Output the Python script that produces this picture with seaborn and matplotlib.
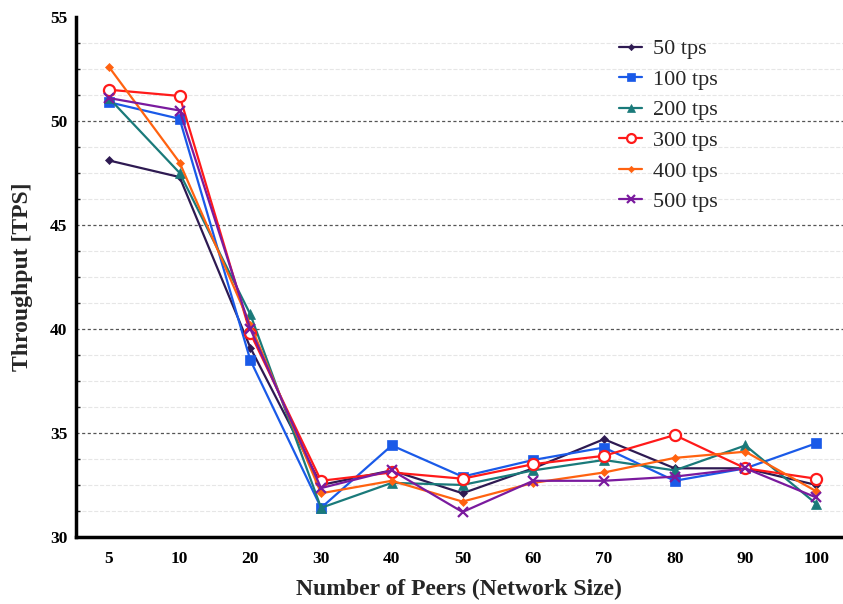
import matplotlib
matplotlib.use('Agg')
import matplotlib.pyplot as plt
from matplotlib.ticker import MultipleLocator
import seaborn as sns
import pandas as pd

sns.set_theme(style="white")
plt.rcParams['font.family'] = ['Liberation Serif', 'DejaVu Serif']

peers = ["5", "10", "20", "30", "40", "50", "60", "70", "80", "90", "100"]
tps_50 = [48.1, 47.3, 39.1, 32.5, 33.2, 32.1, 33.3, 34.7, 33.3, 33.3, 32.5]
tps_100 = [50.9, 50.1, 38.5, 31.4, 34.4, 32.9, 33.7, 34.3, 32.7, 33.3, 34.5]
tps_200 = [51.1, 47.5, 40.7, 31.4, 32.6, 32.5, 33.2, 33.7, 33.2, 34.4, 31.6]
tps_300 = [51.5, 51.2, 39.8, 32.7, 33.1, 32.8, 33.5, 33.9, 34.9, 33.3, 32.8]
tps_400 = [52.6, 48.0, 40.2, 32.1, 32.7, 31.7, 32.6, 33.1, 33.8, 34.1, 32.2]
tps_500 = [51.1, 50.5, 40.0, 32.35, 33.2, 31.2, 32.7, 32.7, 32.9, 33.3, 31.9]

series = {
    "50 tps": tps_50,
    "100 tps": tps_100,
    "200 tps": tps_200,
    "300 tps": tps_300,
    "400 tps": tps_400,
    "500 tps": tps_500,
}

# long table for seaborn
rows = []
for name, vals in series.items():
    for p, v in zip(peers, vals):
        rows.append((name, p, v))
df = pd.DataFrame(rows, columns=["rate", "peers", "tps"])

colors = {
    "50 tps": "#2e1a52",
    "100 tps": "#1a5ae8",
    "200 tps": "#1a7a7a",
    "300 tps": "#ff1a1a",
    "400 tps": "#ff6210",
    "500 tps": "#7a1a9e",
}
markers = {"50 tps": "D", "100 tps": "s", "200 tps": "^",
           "300 tps": "o", "400 tps": "D", "500 tps": "x"}
sizes = {"50 tps": 4, "100 tps": 6.5, "200 tps": 6.5,
         "300 tps": 8, "400 tps": 4, "500 tps": 6.5}

fig = plt.figure(figsize=(8.43, 6.04), dpi=100)
ax = fig.add_axes([0.090, 0.111, 0.910, 0.861])

for name in series:
    sub = df[df["rate"] == name]
    sns.lineplot(data=sub, x="peers", y="tps", ax=ax, color=colors[name],
                 marker=markers[name], markersize=sizes[name], linewidth=1.6,
                 markerfacecolor="white" if name == "300 tps" else colors[name],
                 markeredgecolor=colors[name],
                 markeredgewidth=1.6 if markers[name] in ("o", "x") else 0.5,
                 label=name, sort=False)

ax.set_xlim(-0.467, 10.38)
ax.set_ylim(30, 55)
ax.yaxis.set_major_locator(MultipleLocator(5))
ax.yaxis.set_minor_locator(MultipleLocator(1.25))

# grid: light minor, dashed dark majors at 35..50
ax.grid(which="minor", axis="y", color="#e6e6e6", linestyle="--", linewidth=0.8)
for g in [35, 40, 45, 50]:
    ax.axhline(g, color="#555555", linestyle=(0, (2.5, 2)), linewidth=0.9, zorder=0.5)

for side in ["top", "right"]:
    ax.spines[side].set_visible(False)
for side in ["left", "bottom"]:
    ax.spines[side].set_linewidth(2.5)
    ax.spines[side].set_color("black")

ax.tick_params(axis="x", which="major", direction="in", length=5, width=2,
               labelsize=12.5, pad=10, colors="black")
ax.tick_params(axis="y", which="major", direction="out", length=4, width=2,
               labelsize=12.5, pad=2, colors="black")
ax.tick_params(axis="y", which="minor", direction="in", length=3, width=1, left=True)
for lbl in ax.get_xticklabels() + ax.get_yticklabels():
    lbl.set_fontweight("bold")

ax.set_xlabel("Number of Peers (Network Size)", fontsize=17, fontweight="bold", labelpad=9)
ax.set_ylabel("Throughput [TPS]", fontsize=17, fontweight="bold", labelpad=12)

leg = ax.legend(loc="upper left", bbox_to_anchor=(0.697, 0.975), frameon=False,
                fontsize=16, handlelength=1.0, handletextpad=0.5,
                labelspacing=0.45, borderaxespad=0, markerscale=0.8)

fig.savefig("out.png", dpi=100, facecolor="white")
plt.close(fig)
